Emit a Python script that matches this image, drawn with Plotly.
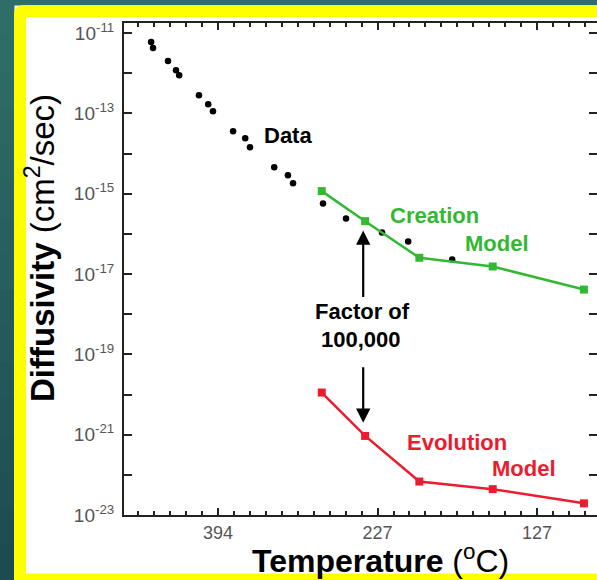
import plotly.graph_objects as go

# ---- data (x = 1000/T in 1/K, y = diffusivity cm^2/s) ----
data_x = [1.290, 1.296, 1.343, 1.368, 1.378, 1.440, 1.469, 1.484, 1.547, 1.585,
          1.600, 1.676, 1.719, 1.735, 1.829, 1.901, 2.014, 2.096, 2.234]
data_y = [5.96e-12, 4.23e-12, 2.0e-12, 1.19e-12, 8.95e-13, 2.84e-13, 1.69e-13,
          1.13e-13, 3.59e-14, 2.40e-14, 1.43e-14, 4.54e-15, 2.86e-15, 1.81e-15,
          5.73e-16, 2.42e-16, 1.08e-16, 6.46e-17, 2.30e-17]

model_x = [1.825, 1.961, 2.131, 2.361, 2.647]
creation_y = [1.16e-15, 2.07e-16, 2.54e-17, 1.54e-17, 4.10e-18]
evolution_y = [1.12e-20, 9.3e-22, 6.8e-23, 4.4e-23, 1.95e-23]

x_tickvals = [1.5, 2.0, 2.5]
x_ticktext = ["394", "227", "127"]
y_exponents = list(range(-23, -10))

W, H = 597, 580
L, R, T, B = 124, 0, 23, 65
PW, PH = W - L - R, H - T - B

def px(xp):
    return (xp - L) / PW

def py(yp):
    return (H - B - yp) / PH

GREEN = "#33b833"
RED = "#ec1c2e"
FONT = "Liberation Sans, Arial, sans-serif"

fig = go.Figure()
fig.add_trace(go.Scatter(x=data_x, y=data_y, mode="markers",
                         marker=dict(color="black", size=6.5), showlegend=False))
fig.add_trace(go.Scatter(x=model_x, y=creation_y, mode="lines+markers",
                         line=dict(color=GREEN, width=2.5),
                         marker=dict(color=GREEN, size=8, symbol="square"),
                         showlegend=False))
fig.add_trace(go.Scatter(x=model_x, y=evolution_y, mode="lines+markers",
                         line=dict(color=RED, width=2.5),
                         marker=dict(color=RED, size=8, symbol="square"),
                         showlegend=False))

ytickvals = [10.0 ** e for e in y_exponents]
yticktext = [("10<sup>%d</sup>" % e) if e % 2 != 0 else "" for e in y_exponents]

fig.update_xaxes(range=[1.205, 2.688], tickvals=x_tickvals, ticktext=x_ticktext,
                 ticks="inside", ticklen=7, tickwidth=2, tickcolor="#222",
                 showline=True, linecolor="#222", linewidth=2, mirror="ticks",
                 showgrid=False, zeroline=False, automargin=False,
                 minor=dict(dtick=0.05, tick0=1.5, ticks="inside", ticklen=4,
                            tickwidth=1.5, tickcolor="#222", showgrid=False),
                 tickfont=dict(family=FONT, size=18, color="#555"))
fig.update_yaxes(type="log", range=[-23, -10.75], tickvals=ytickvals, ticktext=yticktext,
                 ticks="inside", ticklen=8, tickwidth=2, tickcolor="#222",
                 showline=True, linecolor="#222", linewidth=2, mirror="ticks",
                 showgrid=False, zeroline=False, ticklabelstandoff=4, automargin=False,
                 tickfont=dict(family=FONT, size=19, color="#555"))

# background gradient strips on the left (teal at top to darker blue-teal at bottom)
top_rgb = (0x2f, 0x6e, 0x68)
bot_rgb = (0x1e, 0x4b, 0x52)
shapes = [dict(type="rect", xref="paper", yref="paper", x0=px(-5), x1=px(700),
               y0=py(5.5), y1=py(-5), fillcolor="#2f6e68", line=dict(width=0), layer="below")]
n = 16
for i in range(n):
    t = i / (n - 1)
    c = tuple(int(round(a + (b - a) * t)) for a, b in zip(top_rgb, bot_rgb))
    shapes.append(dict(type="rect", xref="paper", yref="paper",
                       x0=px(-5), x1=px(14.5), y0=py(H * (i + 1) / n + 1), y1=py(H * i / n),
                       fillcolor="rgb(%d,%d,%d)" % c, line=dict(width=0), layer="below"))

# yellow frame: top, left and bottom bands with a rounded outer corner
frame_path = "M %f,%f L %f,%f Q %f,%f %f,%f " % (px(14), py(600), px(14), py(15),
                                                 px(14), py(5), px(24), py(5))
for (xa, ya) in [(700, 5), (700, 17), (29, 17)]:
    frame_path += "L %f,%f " % (px(xa), py(ya))
frame_path += "Q %f,%f %f,%f " % (px(26), py(17), px(26), py(20))
for (xa, ya) in [(26, 573.5), (700, 573.5), (700, 600)]:
    frame_path += "L %f,%f " % (px(xa), py(ya))
frame_path += "Z"
shapes.append(dict(type="path", xref="paper", yref="paper", path=frame_path,
                   fillcolor="#ffff00", line=dict(width=0), layer="below"))

def lab(text, x, y, color, size=22):
    return dict(text=text, x=x, y=y, xref="x", yref="y", showarrow=False,
                font=dict(family=FONT, size=size, color=color),
                xanchor="center", yanchor="middle")

annotations = [
    lab("<b>Data</b>", 1.719, -13.545, "black"),
    lab("<b>Creation</b>", 2.180, -15.541, GREEN),
    lab("<b>Model</b>", 2.373, -16.240, GREEN),
    lab("<b>Factor of</b>", 1.953, -17.936, "black"),
    lab("<b>100,000</b>", 1.947, -18.635, "black"),
    lab("<b>Evolution</b>", 2.248, -21.205, RED),
    lab("<b>Model</b>", 2.459, -21.854, RED),
    dict(x=1.955, y=-15.915, ax=1.955, ay=-17.612, xref="x", yref="y", axref="x", ayref="y",
         text="", showarrow=True, arrowhead=2, arrowsize=1.3, arrowwidth=2.2, arrowcolor="black"),
    dict(x=1.955, y=-20.706, ax=1.955, ay=-19.283, xref="x", yref="y", axref="x", ayref="y",
         text="", showarrow=True, arrowhead=2, arrowsize=1.3, arrowwidth=2.2, arrowcolor="black"),
    dict(text="<b>Diffusivity</b> (cm<sup>2</sup>/sec)", x=px(40), y=py(248),
         xref="paper", yref="paper", showarrow=False, textangle=-90,
         font=dict(family=FONT, size=33, color="black"), xanchor="center", yanchor="middle"),
    dict(text="<b>Temperature</b> (<sup>o</sup>C)", x=px(380), y=py(559),
         xref="paper", yref="paper", showarrow=False,
         font=dict(family=FONT, size=32, color="black"), xanchor="center", yanchor="middle"),
]

fig.update_layout(width=W, height=H, margin=dict(l=L, r=R, t=T, b=B, pad=0, autoexpand=False),
                  paper_bgcolor="white", plot_bgcolor="rgba(0,0,0,0)",
                  shapes=shapes, annotations=annotations, showlegend=False)

fig.write_html("out.html", config={"displayModeBar": False},
               post_script="document.body.style.margin='0';document.body.style.overflow='hidden';"
                           "document.body.style.background='white';")
